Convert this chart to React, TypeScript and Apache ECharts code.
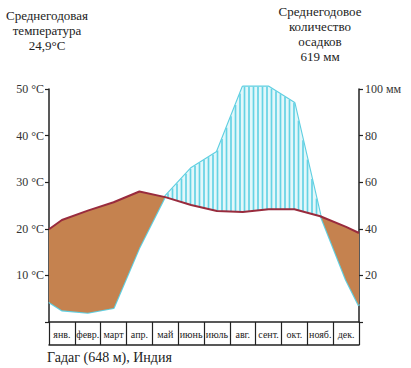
import React, { useEffect, useRef } from "react";
import * as echarts from "echarts";

const months = ["янв.", "февр.", "март", "апр.", "май", "июнь", "июль", "авг.", "сент.", "окт.", "нояб.", "дек."];
// monthly values at month centres
const temperature = [21.9, 23.9, 25.7, 28.0, 26.8, 25.1, 23.8, 23.6, 24.2, 24.2, 22.7, 20.4];
const precipitation = [5, 4, 6, 32, 54, 66, 73, 101, 101, 94, 46, 18];
// values where the curves meet the left / right borders
const temperatureEdges = [19.9, 19.1];
const precipitationEdges = [8.6, 7];
const tempTicks = [0, 10, 20, 30, 40, 50];
const precTicks = [0, 20, 40, 60, 80, 100];

const BROWN = "#c5824f";
const CYAN = "#5fcfe1";
const HATCH = "#66d3e4";
const HATCH_BG = "#e3f7fa";
const TEMP_LINE = "#992b3d";
const INK = "#222";
const FONT = "'Liberation Serif', 'DejaVu Serif', serif";

export default function App() {
  const ref = useRef<HTMLDivElement>(null);
  useEffect(() => {
    const chart = echarts.init(ref.current!, null, { renderer: "svg" });
    const xs = [0, ...months.map((_, i) => i + 0.5), 12];
    const tVals = [temperatureEdges[0], ...temperature, temperatureEdges[1]];
    const pVals = [precipitationEdges[0], ...precipitation, precipitationEdges[1]];
    const tData = xs.map((x, i) => [x, tVals[i]]);
    const pData = xs.map((x, i) => [x, pVals[i]]);
    const ratio = precTicks[precTicks.length - 1] / tempTicks[tempTicks.length - 1];

    const renderItem = (params: any, api: any) => {
      const children: any[] = [];
      const pts: { x: number; t: number; p: number }[] = [];
      for (let i = 0; i < xs.length; i++) {
        const t0 = tVals[i], p0 = pVals[i] / ratio;
        pts.push({ x: xs[i], t: t0, p: p0 });
        if (i < xs.length - 1) {
          const t1 = tVals[i + 1], p1 = pVals[i + 1] / ratio;
          const d0 = t0 - p0, d1 = t1 - p1;
          if (d0 * d1 < 0) {
            const f = d0 / (d0 - d1);
            const tc = t0 + f * (t1 - t0);
            pts.push({ x: xs[i] + f * (xs[i + 1] - xs[i]), t: tc, p: tc });
          }
        }
      }
      const regions = (sign: number, fill: string) => {
        let run: { x: number; t: number; p: number }[] = [];
        const flush = () => {
          if (run.length >= 2) {
            const points = run
              .map((q) => api.coord([q.x, q.t]))
              .concat(run.slice().reverse().map((q) => api.coord([q.x, q.p])));
            children.push({ type: "polygon", shape: { points }, style: { fill } });
          }
          run = [];
        };
        for (const q of pts) {
          if (sign * (q.t - q.p) >= -1e-9) run.push(q);
          else flush();
        }
        flush();
      };
      regions(1, BROWN);
      regions(-1, HATCH_BG);

      const x0p = api.coord([0, 0])[0];
      const x1p = api.coord([12, 0])[0];
      const ppu = (x1p - x0p) / 12;
      const step = 4.5;
      for (let px = x0p + 2; px < x1p; px += step) {
        const xv = (px - x0p) / ppu;
        let k = 0;
        while (k < xs.length - 2 && xs[k + 1] < xv) k++;
        const f = (xv - xs[k]) / (xs[k + 1] - xs[k]);
        const t = tVals[k] + f * (tVals[k + 1] - tVals[k]);
        const p = (pVals[k] + f * (pVals[k + 1] - pVals[k])) / ratio;
        if (p > t) {
          const a = api.coord([xv, t]);
          const b = api.coord([xv, p]);
          children.push({
            type: "line",
            shape: { x1: a[0], y1: a[1], x2: b[0], y2: b[1] },
            style: { stroke: HATCH, lineWidth: 1.7 },
          });
        }
      }
      return { type: "group", children };
    };

    const option: any = {
      animation: false,
      textStyle: { fontFamily: FONT },
      grid: { left: 49, right: 52, top: 89, bottom: 46 },
      xAxis: [
        { type: "value", min: 0, max: 12, show: false },
        {
          type: "category",
          data: months,
          position: "bottom",
          boundaryGap: true,
          axisLine: { show: true, lineStyle: { color: INK, width: 1.5 } },
          axisTick: { show: true, interval: 0, length: 23, lineStyle: { color: INK, width: 1.2 } },
          axisLabel: { interval: 0, margin: 7, fontSize: 10, color: INK, fontFamily: FONT },
        },
        {
          type: "category",
          data: months,
          position: "bottom",
          offset: 23,
          axisLine: { show: true, lineStyle: { color: INK, width: 1.5 } },
          axisTick: { show: false },
          axisLabel: { show: false },
        },
      ],
      yAxis: [
        {
          type: "value",
          min: tempTicks[0],
          max: tempTicks[tempTicks.length - 1],
          interval: 10,
          position: "left",
          axisLine: { show: true, lineStyle: { color: INK, width: 1.5 } },
          axisTick: { show: true, length: 4, lineStyle: { color: INK, width: 1.2 } },
          splitLine: { show: false },
          axisLabel: {
            margin: 5,
            fontSize: 12,
            color: "#333",
            fontFamily: FONT,
            formatter: (v: number) => (v === 0 ? "" : `${v} °C`),
          },
        },
        {
          type: "value",
          min: precTicks[0],
          max: precTicks[precTicks.length - 1],
          interval: 20,
          position: "right",
          axisLine: { show: true, lineStyle: { color: INK, width: 1.5 } },
          axisTick: { show: true, length: 4, lineStyle: { color: INK, width: 1.2 } },
          splitLine: { show: false },
          axisLabel: {
            margin: 6,
            fontSize: 12,
            color: "#333",
            fontFamily: FONT,
            formatter: (v: number) => (v === 0 ? "" : v === 100 ? "100 мм" : `${v}`),
          },
        },
      ],
      graphic: [
        {
          type: "text",
          x: 47,
          y: 8,
          style: {
            text: "Среднегодовая\nтемпература\n24,9°C",
            textAlign: "center",
            fontSize: 13,
            lineHeight: 15,
            fontFamily: FONT,
            fill: INK,
          },
        },
        {
          type: "text",
          x: 320,
          y: 4,
          style: {
            text: "Среднегодовое\nколичество\nосадков\n619 мм",
            textAlign: "center",
            fontSize: 13,
            lineHeight: 15,
            fontFamily: FONT,
            fill: INK,
          },
        },
        {
          type: "text",
          x: 47,
          y: 350,
          style: { text: "Гадаг (648 м), Индия", fontSize: 14, fontFamily: FONT, fill: INK },
        },
      ],
      series: [
        {
          type: "line",
          xAxisIndex: 0,
          yAxisIndex: 1,
          data: pData,
          symbol: "none",
          clip: false,
          lineStyle: { color: CYAN, width: 2.2 },
          z: 2,
        },
        {
          type: "custom",
          xAxisIndex: 0,
          yAxisIndex: 0,
          data: [[0, 0]],
          clip: false,
          renderItem,
          z: 3,
        },
        {
          type: "line",
          xAxisIndex: 0,
          yAxisIndex: 0,
          data: tData,
          symbol: "none",
          clip: false,
          lineStyle: { color: TEMP_LINE, width: 2 },
          z: 4,
        },
      ],
    };
    chart.setOption(option);
    return () => chart.dispose();
  }, []);
  return <div ref={ref} style={{ position: "absolute", left: 0, top: 0, width: 411, height: 368 }} />;
}
